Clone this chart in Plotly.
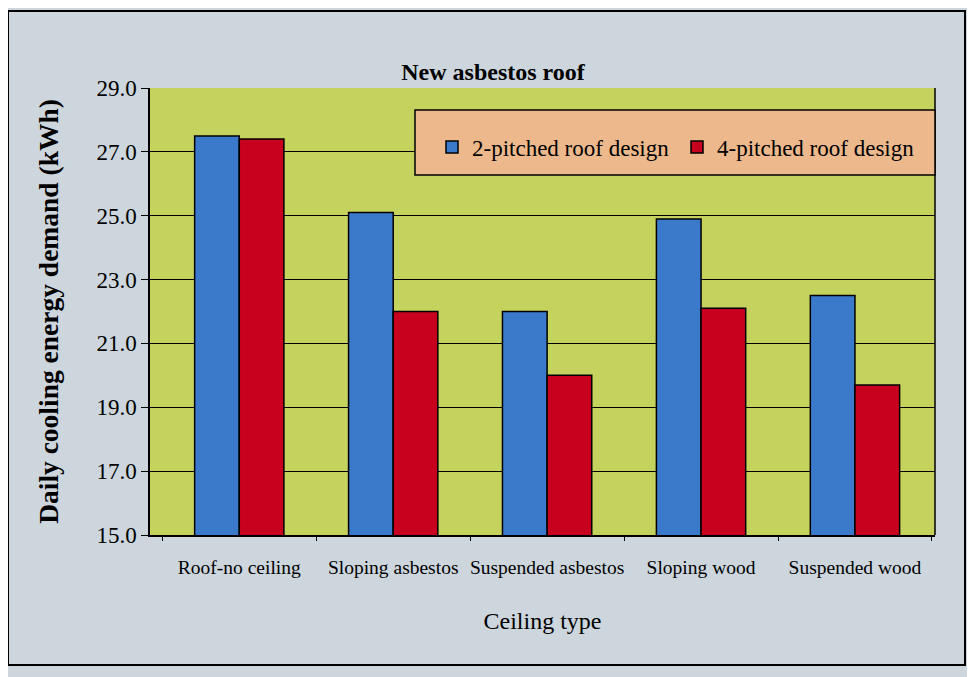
import plotly.graph_objects as go

categories = ["Roof-no ceiling", "Sloping asbestos", "Suspended asbestos", "Sloping wood", "Suspended wood"]
two_pitched = [27.5, 25.1, 22.0, 24.9, 22.5]
four_pitched = [27.4, 22.0, 20.0, 22.1, 19.7]
y_ticks = [15.0, 17.0, 19.0, 21.0, 23.0, 25.0, 27.0, 29.0]

serif = "Liberation Serif, Times New Roman, serif"

# page is rendered with an 8px body margin; plot area target (page px): x 150..935, y 88..535
ML, MT = 142, 80
PW, PH = 785, 447


def px(xpage):
    return (xpage - 8 - ML) / PW


def py(ypage):
    return (MT + PH - (ypage - 8)) / PH


fig = go.Figure()
fig.add_trace(go.Bar(name="2-pitched roof design", x=categories, y=two_pitched,
                     marker=dict(color="#3b7acb", line=dict(color="black", width=1.5))))
fig.add_trace(go.Bar(name="4-pitched roof design", x=categories, y=four_pitched,
                     marker=dict(color="#c8021e", line=dict(color="black", width=1.5))))

fig.update_layout(
    width=975, height=677,
    margin=dict(l=ML, r=975 - ML - PW, t=MT, b=677 - MT - PH),
    paper_bgcolor="#cdd6dd",
    plot_bgcolor="#c6d25e",
    barmode="group", bargap=0.42, bargroupgap=0,
    font=dict(family=serif, color="black", size=20),
    title=dict(text="<b>New asbestos roof</b>", x=485 / 975, xanchor="center",
               y=1 - (72 - 8) / 677, yanchor="middle",
               font=dict(family=serif, size=24, color="black")),
    legend=dict(orientation="h", x=px(432), xanchor="left", y=py(147), yanchor="middle",
                bgcolor="rgba(0,0,0,0)", font=dict(family=serif, size=23, color="black"),
                entrywidth=200, itemwidth=30, traceorder="normal"),
    showlegend=True,
)
fig.update_yaxes(range=[15, 29], tickvals=y_ticks, ticktext=[f"{v:.1f}" for v in y_ticks],
                 automargin=False,
                 showgrid=True, gridcolor="black", gridwidth=1.2,
                 showline=True, linecolor="black", linewidth=1.5,
                 ticks="outside", ticklen=7, tickcolor="black",
                 tickfont=dict(family=serif, size=23),
                 title=dict(text="<b>Daily cooling energy demand (kWh)</b>", standoff=30,
                            font=dict(family=serif, size=27.5)))
fig.update_xaxes(showline=True, linecolor="black", linewidth=1.5, mirror=False,
                 range=[-0.58, 4.52],
                 automargin=False, tickangle=0,
                 ticks="outside", ticklen=4, tickcolor="black", tickson="boundaries",
                 ticklabelstandoff=14,
                 tickfont=dict(family=serif, size=19.5),
                 title=dict(text="Ceiling type", standoff=35, font=dict(family=serif, size=24)))

# right border of plot area
fig.add_shape(type="line", xref="paper", yref="paper", x0=1, x1=1, y0=0, y1=1,
              line=dict(color="black", width=1.5))
# legend box
fig.add_shape(type="rect", xref="paper", yref="paper", x0=px(415), x1=1.0, y0=py(175), y1=py(110),
              fillcolor="#edb98c", line=dict(color="black", width=1.5), layer="above")
# outer frame
fig.add_shape(type="rect", xref="paper", yref="paper",
              x0=px(8), x1=px(965), y0=py(665), y1=py(11),
              line=dict(color="black", width=2), fillcolor="rgba(0,0,0,0)", layer="below")

fig.write_html("out.html")
